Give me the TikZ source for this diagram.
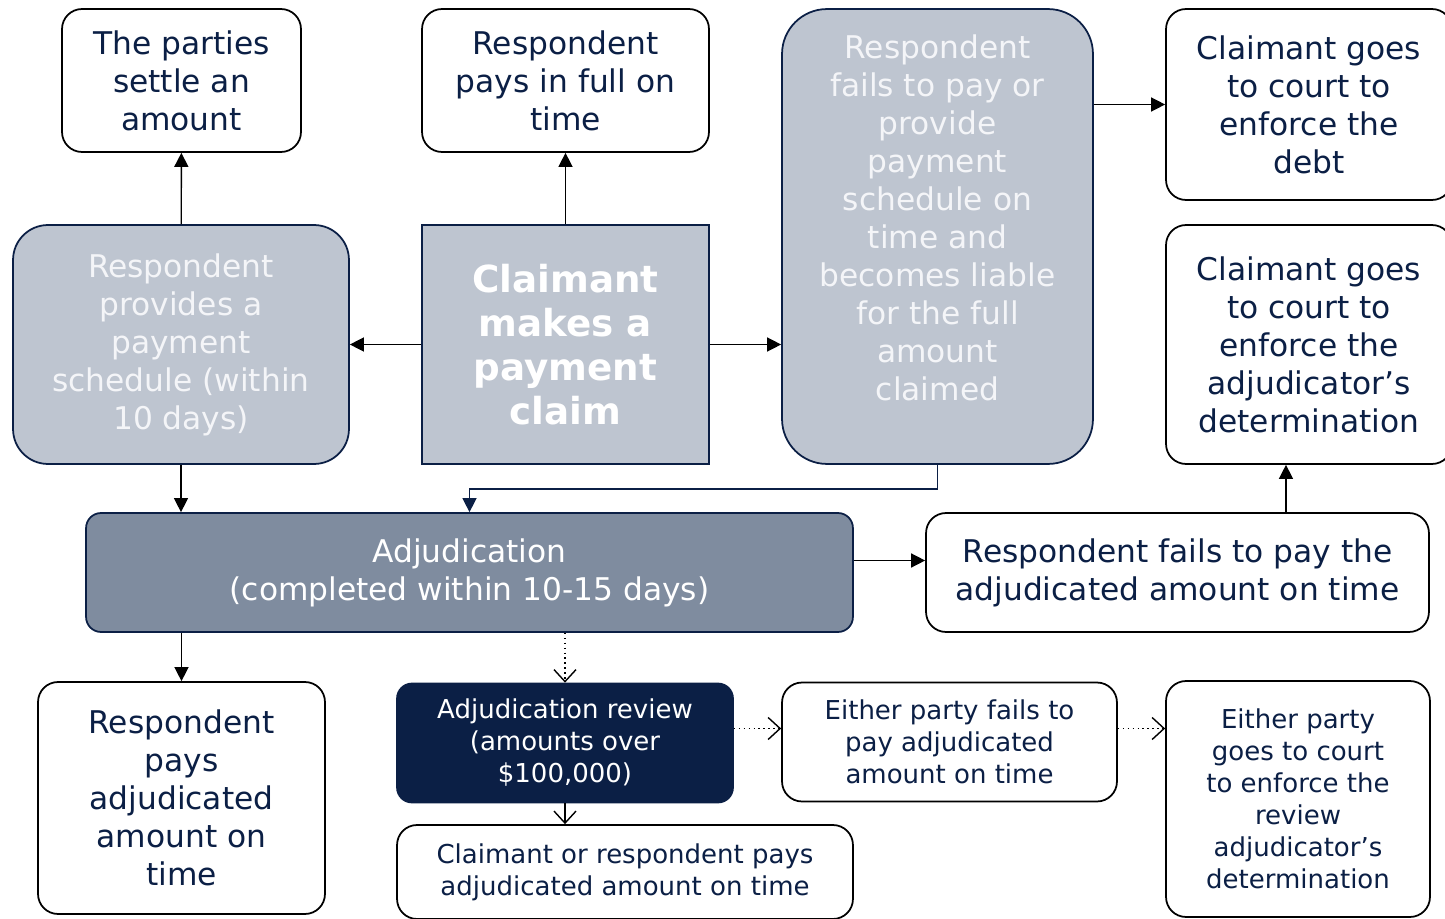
\documentclass[tikz,border=0pt]{standalone}
\usepackage{fontspec}
\setmainfont{DejaVu Sans}
\usetikzlibrary{arrows.meta}
\definecolor{navy}{HTML}{0B1F45}
\definecolor{slate}{HTML}{BEC5D0}
\definecolor{steel}{HTML}{7F8C9F}
\definecolor{paper}{HTML}{F4F5F8}

\begin{document}
\begin{tikzpicture}[x=0.02cm, y=-0.02cm, >={Triangle[length=2.8mm, width=2.8mm]},
  box/.style={draw=black, line width=1pt, rounded corners=4mm, fill=white, text=navy, align=center, inner sep=0pt},
  greybox/.style={draw=navy, line width=1pt, fill=slate, text=paper, align=center, inner sep=0pt},
  big/.style={font=\fontsize{17.8}{21.6}\selectfont},
  small/.style={font=\fontsize{14.8}{18.2}\selectfont},
  arr/.style={->, line width=0.8pt},
  dots/.style={-{Straight Barb[length=2.4mm, width=4.4mm]}, dotted, line width=0.8pt}]
\useasboundingbox (0,0) rectangle (1445,919);
% top row
\node[box, big, minimum width=4.78cm, minimum height=2.86cm] (settle) at (181.5,80.5) {The parties\\settle an\\amount};
\node[box, big, minimum width=5.74cm, minimum height=2.86cm] (fullpay) at (565.5,80.5) {Respondent\\pays in full on\\time};
\node[greybox, big, rounded corners=9mm, minimum width=6.22cm, minimum height=9.1cm] (nopay) at (937.5,236.5) {Respondent\\fails to pay or\\provide\\payment\\schedule on\\time and\\becomes liable\\for the full\\amount\\claimed\\ \mbox{}};
\node[box, big, minimum width=5.72cm, minimum height=3.82cm] (debt) at (1309,104.5) {Claimant goes\\to court to\\enforce the\\debt};
\node[box, big, minimum width=5.72cm, minimum height=4.78cm] (enforce) at (1309,344.5) {Claimant goes\\to court to\\enforce the\\adjudicator’s\\determination};
% middle row
\node[greybox, big, rounded corners=7mm, minimum width=6.72cm, minimum height=4.78cm] (schedule) at (181,344.5) {Respondent\\provides a\\payment\\schedule (within\\10 days)};
\node[greybox, font=\bfseries\fontsize{21.2}{25}\selectfont, text=white, minimum width=5.74cm, minimum height=4.78cm] (claim) at (565.5,344.5) {Claimant\\makes a\\payment\\claim};
\node[greybox, big, fill=steel, text=white, rounded corners=3mm, minimum width=15.34cm, minimum height=2.38cm] (adjud) at (469.5,572.5) {Adjudication\\(completed within 10-15 days)};
\node[box, big, minimum width=10.06cm, minimum height=2.38cm] (latepay) at (1177.5,572.5) {Respondent fails to pay the\\adjudicated amount on time};
% bottom row
\node[box, big, minimum width=5.74cm, minimum height=4.64cm] (paid) at (181.5,798) {Respondent\\pays\\adjudicated\\amount on\\time};
\node[box, small, draw=navy, fill=navy, text=white, rounded corners=3mm, minimum width=6.72cm, minimum height=2.38cm] (review) at (565,743) {Adjudication review\\(amounts over\\\$100,000)};
\node[box, small, minimum width=6.7cm, minimum height=2.38cm] (eitherlate) at (949.5,742) {Either party fails to\\pay adjudicated\\amount on time};
\node[box, small, minimum width=5.28cm, minimum height=4.72cm] (reviewcourt) at (1298,799) {Either party\\goes to court\\to enforce the\\review\\adjudicator’s\\determination};
\node[box, small, minimum width=9.12cm, minimum height=1.88cm] (reviewpaid) at (625,872) {Claimant or respondent pays\\adjudicated amount on time};
% connectors
\draw[arr] (claim) -- (fullpay);
\draw[arr] (schedule) -- (settle);
\draw[arr] (claim) -- (schedule);
\draw[arr] (claim.east) -- (claim.east -| nopay.west);
\draw[arr] (nopay.east |- debt) -- (debt);
\draw[arr, navy] (nopay.south) -- ++(0,24) -| (adjud.north);
\draw[arr] (schedule) -- (schedule |- adjud.north);
\draw[arr] ([yshift=0.24cm]adjud.east) -- ([yshift=0.24cm]latepay.west);
\draw[arr] ([xshift=2.17cm]latepay.north) -- ([xshift=2.17cm]latepay.north |- enforce.south);
\draw[arr] (adjud.south -| paid) -- (paid);
\draw[dots] (adjud.south -| review) -- (review);
\draw[dots] ([yshift=0.29cm]review.east) -- ([yshift=0.29cm]review.east -| eitherlate.west);
\draw[dots] ([yshift=0.29cm]review.east -| eitherlate.east) -- ([yshift=0.29cm]review.east -| reviewcourt.west);
\draw[-{Straight Barb[length=2.4mm, width=4.4mm]}, line width=0.8pt] (review) -- (reviewpaid.north -| review);
\end{tikzpicture}
\end{document}
